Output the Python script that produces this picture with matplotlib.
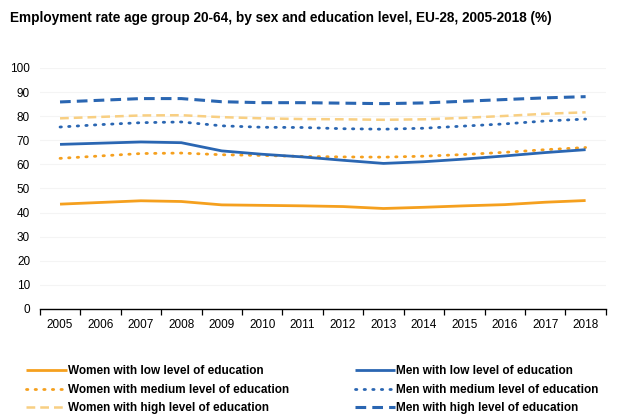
import numpy as np
import matplotlib
matplotlib.use('Agg')
import matplotlib.pyplot as plt

plt.rcParams['font.family'] = ['Liberation Sans', 'DejaVu Sans']

years = list(range(2005, 2019))

women_low = [43.5, 44.2, 44.9, 44.6, 43.2, 43.0, 42.8, 42.5, 41.7, 42.2, 42.8, 43.3, 44.3, 45.0]
women_medium = [62.5, 63.5, 64.5, 64.7, 64.0, 63.7, 63.3, 63.1, 63.0, 63.4, 64.1, 65.0, 66.1, 67.0]
women_high = [79.1, 79.7, 80.3, 80.4, 79.6, 79.1, 78.8, 78.7, 78.5, 78.7, 79.3, 80.1, 81.0, 81.6]
men_low = [68.3, 68.8, 69.3, 69.0, 65.6, 64.2, 63.1, 61.7, 60.4, 61.1, 62.2, 63.5, 64.9, 66.1]
men_medium = [75.5, 76.5, 77.3, 77.6, 76.0, 75.4, 75.3, 74.8, 74.6, 75.0, 75.9, 76.8, 78.0, 78.8]
men_high = [85.9, 86.6, 87.3, 87.3, 86.0, 85.6, 85.6, 85.4, 85.2, 85.5, 86.2, 86.9, 87.6, 88.1]

labels = [
    'Women with low level of education',
    'Women with medium level of education',
    'Women with high level of education',
    'Men with low level of education',
    'Men with medium level of education',
    'Men with high level of education',
]

orange = '#F5A01E'
pale_orange = '#F8CF82'
blue = '#2A66B2'

fig = plt.figure(figsize=(6.22, 4.17), dpi=100)
ax = fig.add_axes([0.064, 0.259, 0.91, 0.578])

x = np.arange(len(years))
ax.plot(x, women_low, color=orange, lw=2.0, solid_capstyle='butt', label=labels[0])
ax.plot(x, women_medium, color=orange, lw=2.0, linestyle=(0, (0.5, 2.6)),
        dash_capstyle='round', label=labels[1])
ax.plot(x, women_high, color=pale_orange, lw=1.8, linestyle=(0, (3.5, 2.0)),
        label=labels[2])
ax.plot(x, men_low, color=blue, lw=2.0, solid_capstyle='butt', label=labels[3])
ax.plot(x, men_medium, color=blue, lw=2.0, linestyle=(0, (0.5, 2.6)),
        dash_capstyle='round', label=labels[4])
ax.plot(x, men_high, color=blue, lw=2.2, linestyle=(0, (3.5, 2.0)), label=labels[5])

ax.set_xlim(-0.5, len(years) - 0.5)
ax.set_ylim(0, 100)
ax.set_yticks(range(0, 101, 10))
ax.tick_params(axis='y', length=0, labelsize=8.5, pad=7)
ax.grid(axis='y', color='#f4f4f4', lw=0.8)
ax.set_axisbelow(True)

# year labels sit between the boundary ticks
ax.set_xticks(np.arange(-0.5, len(years), 1.0))
ax.set_xticklabels([])
ax.set_xticks(x, minor=True)
ax.set_xticklabels([str(y) for y in years], minor=True, fontsize=8.5)
ax.tick_params(axis='x', which='major', length=4, width=0.9, color='black', direction='out')
ax.tick_params(axis='x', which='minor', length=0, pad=7)

for side in ['left', 'right', 'top']:
    ax.spines[side].set_visible(False)
ax.spines['bottom'].set_color('black')
ax.spines['bottom'].set_linewidth(1.0)

fig.text(0.016, 0.958, 'Employment rate age group 20-64, by sex and education level, EU-28, 2005-2018 (%)',
         fontsize=9.8, fontweight='bold', va='center')

fig.legend(loc='upper left', bbox_to_anchor=(0.035, 0.135), ncol=2, frameon=False,
           prop={'size': 8.5, 'weight': 'bold'}, handlelength=3.4, handletextpad=0.1,
           columnspacing=5.6, labelspacing=0.55, borderaxespad=0)

fig.savefig('out.png', dpi=100, facecolor='white')
